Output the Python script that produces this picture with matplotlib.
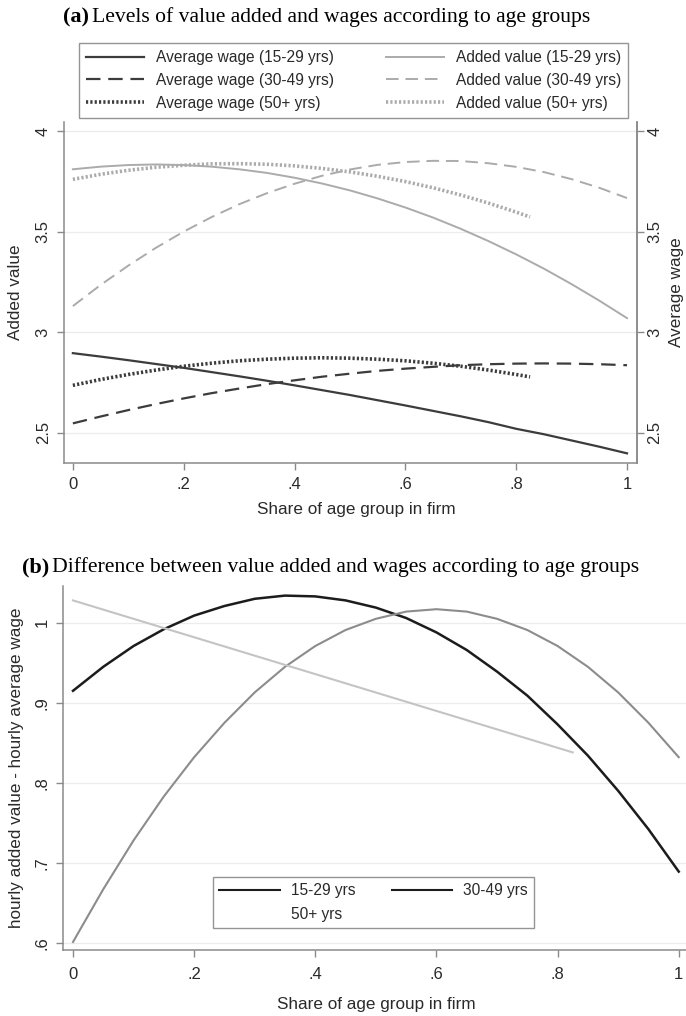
import matplotlib
matplotlib.use("Agg")
import matplotlib.pyplot as plt
from matplotlib.lines import Line2D

plt.rcParams['font.family'] = ['Liberation Sans', 'DejaVu Sans']

# ---------------- data: panel (a) ----------------
share_full = [0.0, 0.05, 0.1, 0.15, 0.2, 0.25, 0.3, 0.35, 0.4, 0.45, 0.5,
              0.55, 0.6, 0.65, 0.7, 0.75, 0.8, 0.85, 0.9, 0.95, 1.0]
share_50 = [0.0, 0.05, 0.1, 0.15, 0.2, 0.25, 0.3, 0.35, 0.4, 0.45, 0.5,
            0.55, 0.6, 0.65, 0.7, 0.75, 0.8, 0.825]

wage_15_29 = [2.896, 2.879, 2.861, 2.842, 2.823, 2.802, 2.781, 2.759, 2.736, 2.712, 2.688,
              2.662, 2.636, 2.609, 2.582, 2.553, 2.520, 2.493, 2.462, 2.431, 2.398]
wage_30_49 = [2.547, 2.581, 2.613, 2.643, 2.671, 2.697, 2.720, 2.742, 2.761, 2.779, 2.794,
              2.808, 2.819, 2.828, 2.836, 2.841, 2.844, 2.845, 2.844, 2.841, 2.836]
wage_50 = [2.736, 2.765, 2.790, 2.812, 2.831, 2.846, 2.858, 2.866, 2.871, 2.873, 2.871,
           2.866, 2.858, 2.846, 2.831, 2.812, 2.790, 2.778]

av_15_29 = [3.810, 3.823, 3.831, 3.834, 3.831, 3.823, 3.810, 3.792, 3.768, 3.739, 3.705,
            3.665, 3.620, 3.570, 3.514, 3.453, 3.387, 3.316, 3.239, 3.157, 3.070]
av_30_49 = [3.130, 3.235, 3.331, 3.420, 3.500, 3.572, 3.636, 3.691, 3.738, 3.778, 3.809,
            3.832, 3.846, 3.852, 3.851, 3.840, 3.822, 3.796, 3.761, 3.718, 3.667]
av_50 = [3.760, 3.785, 3.805, 3.820, 3.830, 3.837, 3.838, 3.835, 3.827, 3.814, 3.797,
         3.775, 3.749, 3.718, 3.682, 3.642, 3.597, 3.573]

a_yticks = [2.5, 3.0, 3.5, 4.0]
a_yticklabels = ['2.5', '3', '3.5', '4']
xticks = [0, 0.2, 0.4, 0.6, 0.8, 1.0]
xticklabels = ['0', '.2', '.4', '.6', '.8', '1']

# ---------------- data: panel (b) ----------------
diff_15_29 = [0.915, 0.945, 0.971, 0.992, 1.009, 1.021, 1.030, 1.034, 1.033, 1.028, 1.019,
              1.006, 0.988, 0.966, 0.939, 0.909, 0.873, 0.834, 0.790, 0.742, 0.689]
diff_30_49 = [0.601, 0.667, 0.728, 0.783, 0.832, 0.875, 0.913, 0.945, 0.971, 0.991, 1.005,
              1.014, 1.017, 1.014, 1.005, 0.991, 0.971, 0.945, 0.913, 0.875, 0.832]
share_50b = [0.0, 0.825]
diff_50 = [1.028, 0.838]

b_yticks = [0.6, 0.7, 0.8, 0.9, 1.0]
b_yticklabels = ['.6', '.7', '.8', '.9', '1']

W, H = 686, 1016
fig = plt.figure(figsize=(W / 100, H / 100), dpi=100)

DARK = '#3c3c3c'
LIGHT = '#ababab'
SPINE = '#8a8a8a'
GRID = '#ececec'
TXT = '#2a2a2a'
TICKFS = 12
LABFS = 12.3
LEGFS = 11.2

def fx(px):
    return px / W

def fy(py):
    return 1 - py / H

# ---------------- panel (a) ----------------
A_L, A_R, A_T, A_B = 64, 637, 122, 463
ax = fig.add_axes([fx(A_L), fy(A_B), fx(A_R) - fx(A_L), fy(A_T) - fy(A_B)])
l1, = ax.plot(share_full, wage_15_29, color=DARK, lw=1.6, ls='-', label='Average wage (15-29 yrs)')
l2, = ax.plot(share_full, wage_30_49, color=DARK, lw=1.6, ls=(0, (6.5, 3.5)), label='Average wage (30-49 yrs)')
l3, = ax.plot(share_50, wage_50, color=DARK, lw=2.6, ls=(0, (0.6, 0.6)), label='Average wage (50+ yrs)')
l4, = ax.plot(share_full, av_15_29, color=LIGHT, lw=1.4, ls='-', label='Added value (15-29 yrs)')
l5, = ax.plot(share_full, av_30_49, color=LIGHT, lw=1.4, ls=(0, (6.5, 3.5)), label='Added value (30-49 yrs)')
l6, = ax.plot(share_50, av_50, color=LIGHT, lw=2.6, ls=(0, (0.6, 0.6)), label='Added value (50+ yrs)')

ax.set_xlim(-0.016, 1.018)
ax.set_ylim(2.35, 4.045)
ax.set_xticks(xticks)
ax.set_xticklabels(xticklabels)
ax.set_yticks(a_yticks)
ax.set_yticklabels(a_yticklabels, rotation=90, va='center')
for y in a_yticks:
    ax.axhline(y, color=GRID, lw=0.9, zorder=0)
ax.set_ylabel('Added value', fontsize=LABFS, color=TXT)
ax.set_xlabel('Share of age group in firm', fontsize=LABFS, color=TXT)
ax.yaxis.set_label_coords((16 - A_L) / (A_R - A_L), 0.5)
ax.yaxis.label.set_va('center')
ax.xaxis.set_label_coords((356 - A_L) / (A_R - A_L), (A_B - 509) / (A_B - A_T))
ax.xaxis.label.set_va('center')
ax.spines['top'].set_visible(False)
for s in ['left', 'bottom', 'right']:
    ax.spines[s].set_color(SPINE)
    ax.spines[s].set_linewidth(1.1)
ax.tick_params(axis='both', colors=SPINE, labelcolor=TXT, labelsize=TICKFS, length=5, width=1.0)
ax.tick_params(axis='x', pad=5)
ax.tick_params(axis='y', pad=4.5)

ax2 = ax.twinx()
ax2.set_ylim(2.35, 4.045)
ax2.set_yticks(a_yticks)
ax2.set_yticklabels(a_yticklabels, rotation=90, va='center')
ax2.set_ylabel('Average wage', fontsize=LABFS, color=TXT, rotation=90)
ax2.yaxis.set_label_coords((677 - A_L) / (A_R - A_L), 0.5)
ax2.yaxis.label.set_va('center')
ax2.spines['top'].set_visible(False)
ax2.spines['right'].set_color(SPINE)
ax2.spines['right'].set_linewidth(1.1)
ax2.spines['left'].set_visible(False)
ax2.spines['bottom'].set_visible(False)
ax2.tick_params(axis='y', colors=SPINE, labelcolor=TXT, labelsize=TICKFS, length=5, width=1.0, pad=2.5)

leg = fig.legend(handles=[l1, l2, l3, l4, l5, l6], ncol=2, loc='upper left',
                 bbox_to_anchor=(fx(79), fy(117), fx(628) - fx(79), fy(43) - fy(117)),
                 mode='expand', borderaxespad=0, fontsize=LEGFS, handlelength=3.75,
                 handletextpad=0.75, labelspacing=0.5, columnspacing=2.0,
                 fancybox=False, frameon=True, borderpad=0.45)
leg.get_frame().set_edgecolor('#7a7a7a')
leg.get_frame().set_linewidth(1.0)
for t in leg.get_texts():
    t.set_color(TXT)

# titles (serif)
def title(x, y, tag, rest):
    t1 = fig.text(fx(x), fy(y), tag, fontsize=16, fontweight='bold',
                  family='Liberation Serif', va='center', ha='left')
    fig.canvas.draw()
    bb = t1.get_window_extent()
    fig.text(bb.x1 / W + 3 / W, fy(y), rest, fontsize=15.6,
             family='Liberation Serif', va='center', ha='left')

# ---------------- panel (b) ----------------
B_L, B_R, B_T, B_B = 63, 686, 586, 950
bx = fig.add_axes([fx(B_L), fy(B_B), fx(B_R) - fx(B_L), fy(B_T) - fy(B_B)])
m1, = bx.plot(share_full, diff_15_29, color='#1c1c1c', lw=1.8)
m2, = bx.plot(share_full, diff_30_49, color='#8c8c8c', lw=1.5)
m3, = bx.plot(share_50b, diff_50, color='#c4c4c4', lw=1.5)
bx.set_xlim(-0.0165, 1.012)
bx.set_ylim(0.591, 1.046)
bx.set_xticks(xticks)
bx.set_xticklabels(xticklabels)
bx.set_yticks(b_yticks)
bx.set_yticklabels(b_yticklabels, rotation=90, va='center')
for y in b_yticks:
    bx.axhline(y, color=GRID, lw=0.9, zorder=0)
bx.set_ylabel('hourly added value - hourly average wage', fontsize=LABFS, color=TXT)
bx.set_xlabel('Share of age group in firm', fontsize=LABFS, color=TXT)
bx.yaxis.set_label_coords((17 - B_L) / (B_R - B_L), 0.5)
bx.yaxis.label.set_va('center')
bx.xaxis.set_label_coords((376 - B_L) / (B_R - B_L), (B_B - 1005) / (B_B - B_T))
bx.xaxis.label.set_va('center')
bx.spines['top'].set_visible(False)
bx.spines['right'].set_visible(False)
for s in ['left', 'bottom']:
    bx.spines[s].set_color(SPINE)
    bx.spines[s].set_linewidth(1.1)
bx.tick_params(axis='both', colors=SPINE, labelcolor=TXT, labelsize=TICKFS, length=5, width=1.0)
bx.tick_params(axis='x', pad=7)
bx.tick_params(axis='y', pad=4.5)

h15 = Line2D([], [], color='#1c1c1c', lw=1.5)
h30 = Line2D([], [], color='#1c1c1c', lw=1.5)
h50 = Line2D([], [], color='none', lw=1.5)
legb = fig.legend(handles=[h15, h50, h30], labels=['15-29 yrs', '50+ yrs', '30-49 yrs'],
                  ncol=2, loc='upper left',
                  bbox_to_anchor=(fx(213), fy(930), fx(534) - fx(213), fy(877) - fy(930)),
                  mode='expand', borderaxespad=0, fontsize=LEGFS, handlelength=3.9,
                  handletextpad=0.7, labelspacing=0.55, columnspacing=1.5,
                  fancybox=False, frameon=True, borderpad=0.4)
legb.get_frame().set_edgecolor('#7a7a7a')
legb.get_frame().set_linewidth(1.0)
for t in legb.get_texts():
    t.set_color(TXT)

title(63, 17, '(a)', 'Levels of value added and wages according to age groups')
title(22, 567, '(b)', 'Difference between value added and wages according to age groups')

fig.savefig('out.png', dpi=100, facecolor='white')
